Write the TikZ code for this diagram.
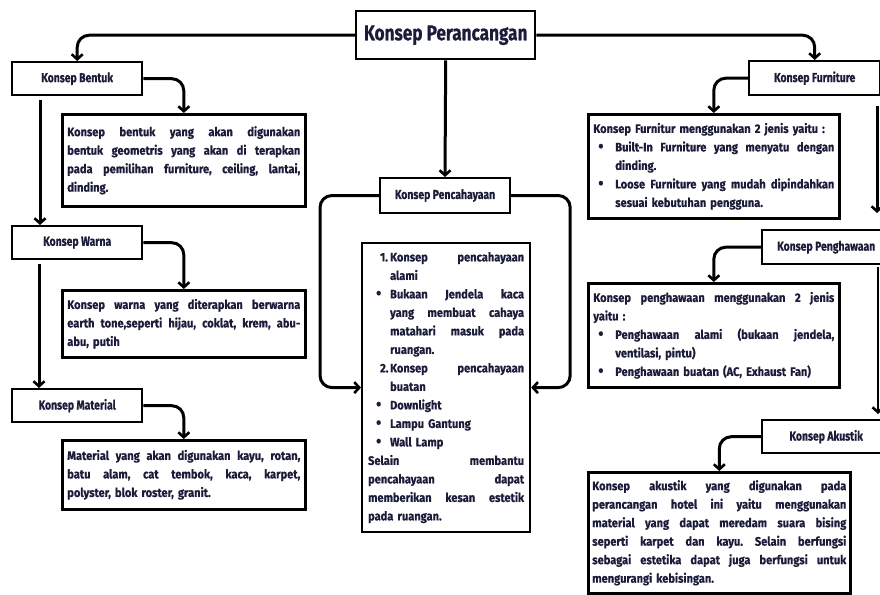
\documentclass[tikz,border=0pt]{standalone}
\usepackage{fontspec}
\setmainfont{Fira Sans}[FakeStretch=0.9,BoldFeatures={FakeBold=0.6}]
\newfontfamily\lblfont{Fira Sans}[FakeStretch=0.8,BoldFeatures={FakeBold=0.6}]
\usetikzlibrary{arrows.meta,calc}
\definecolor{txt}{HTML}{1B1B3A}
\frenchspacing
\newlength\mkind
\setlength\mkind{22pt}
\newcommand\bul{\raisebox{-0.4pt}{\scalebox{1.35}{\textbullet}}}
% justified full line
\newcommand\Jf[1]{\hbox to\hsize{\spaceskip=\fontdimen2\font plus 1fil\relax #1}}
% left full line
\newcommand\Lf[1]{\hbox to\hsize{#1\hfil}}
% justified line with marker at offset
\newcommand\Jm[3]{\hbox to\hsize{\hbox to\mkind{\hskip#1\relax #2\hss}\spaceskip=\fontdimen2\font plus 1fil\relax #3}}
% left line with marker at offset
\newcommand\Lm[3]{\hbox to\hsize{\hbox to\mkind{\hskip#1\relax #2\hss}#3\hfil}}
\tikzset{
  lbl/.style={draw, line width=2.4pt, text=txt, inner sep=0pt, anchor=north west,
    font=\lblfont\bfseries\fontsize{13}{15}\selectfont},
  desc/.style={draw, line width=2.6pt, text=txt, inner sep=0pt, anchor=north west,
    font=\bfseries\fontsize{12.3}{18.5}\selectfont},
  conn/.style={line width=3pt, rounded corners=12pt,
    -{Straight Barb[length=5pt,width=11pt,line width=2.6pt]}}
}
\begin{document}
\begin{tikzpicture}[x=1pt,y=-1pt]
\useasboundingbox (0,0) rectangle (880,594);
\clip (0,0) rectangle (880,594);
\fill[white] (0,0) rectangle (880,594);

% main node
\node[lbl, font=\lblfont\bfseries\fontsize{21.5}{24}\selectfont, minimum width=179pt, minimum height=48pt] (per) at (355,10) {Konsep Perancangan};

% left column
\node[lbl, minimum width=130pt, minimum height=33pt] (bentuk) at (11,61) {Konsep Bentuk};
\node[lbl, minimum width=130pt, minimum height=33pt] (warna) at (11,225) {Konsep Warna};
\node[lbl, minimum width=130pt, minimum height=33pt] (material) at (11,388) {Konsep Material};

\node[desc, minimum width=243pt, minimum height=92pt, text width=233pt] (bdesc) at (61,113) {%
\Jf{Konsep bentuk yang akan digunakan}
\Jf{bentuk geometris yang akan di terapkan}
\Jf{pada pemilihan furniture, ceiling, lantai,}
\Lf{dinding.}};

\node[desc, minimum width=243pt, minimum height=67pt, text width=233pt] (wdesc) at (61,289) {%
\Jf{Konsep warna yang diterapkan berwarna}
\Jf{earth tone,seperti hijau, coklat, krem, abu-}
\Lf{abu, putih}};

\node[desc, minimum width=243pt, minimum height=69pt, text width=233pt] (mdesc) at (61,439) {%
\Jf{Material yang akan digunakan kayu, rotan,}
\Jf{batu alam, cat tembok, kaca, karpet,}
\Lf{polyster, blok roster, granit.}};

% centre column
\node[lbl, line width=2pt, minimum width=130pt, minimum height=35pt] (penc) at (379,177) {Konsep Pencahayaan};

\node[desc, line width=2.2pt, minimum width=168pt, minimum height=289pt, text width=156pt] (pdesc) at (361,242) {%
\Jm{12pt}{1.}{Konsep pencahayaan}
\Lm{0pt}{}{alami}
\Jm{8pt}{\bul}{Bukaan Jendela kaca}
\Jm{0pt}{}{yang membuat cahaya}
\Jm{0pt}{}{matahari masuk pada}
\Lm{0pt}{}{ruangan.}
\Jm{12pt}{2.}{Konsep pencahayaan}
\Lm{0pt}{}{buatan}
\Lm{8pt}{\bul}{Downlight}
\Lm{8pt}{\bul}{Lampu Gantung}
\Lm{8pt}{\bul}{Wall Lamp}
\Jf{Selain membantu}
\Jf{pencahayaan dapat}
\Jf{memberikan kesan estetik}
\Lf{pada ruangan.}};

% right column
\node[lbl, minimum width=131pt, minimum height=34pt] (furn) at (748,60) {Konsep Furniture};
\node[lbl, minimum width=128pt, minimum height=34pt] (pengh) at (761,229) {Konsep Penghawaan};
\node[lbl, minimum width=128pt, minimum height=33pt] (akus) at (761,419) {Konsep Akustik};

\node[desc, minimum width=251pt, minimum height=104pt, text width=241pt] (fdesc) at (587,113) {%
\Lf{Konsep Furnitur menggunakan 2 jenis yaitu :}
\Jm{5pt}{\bul}{Built-In Furniture yang menyatu dengan}
\Lm{0pt}{}{dinding.}
\Jm{5pt}{\bul}{Loose Furniture yang mudah dipindahkan}
\Lm{0pt}{}{sesuai kebutuhan pengguna.}};

\node[desc, minimum width=251pt, minimum height=104pt, text width=241pt] (hdesc) at (587,282) {%
\Jf{Konsep penghawaan menggunakan 2 jenis}
\Lf{yaitu :}
\Jm{5pt}{\bul}{Penghawaan alami (bukaan jendela,}
\Lm{0pt}{}{ventilasi, pintu)}
\Lm{5pt}{\bul}{Penghawaan buatan (AC, Exhaust Fan)}};

\node[desc, minimum width=262pt, minimum height=121pt, text width=254pt] (adesc) at (587,471) {%
\Jf{Konsep akustik yang digunakan pada}
\Jf{perancangan hotel ini yaitu menggunakan}
\Jf{material yang dapat meredam suara bising}
\Jf{seperti karpet dan kayu. Selain berfungsi}
\Jf{sebagai estetika dapat juga berfungsi untuk}
\Lf{mengurangi kebisingan.}};

% connectors
\draw[conn] (per.west) -| (bentuk.north);
\draw[conn] (per.east) -| (furn.north);
\draw[conn] (per.south) -- (penc.north);

\draw[conn] (bentuk.east) -| (bdesc.north);
\draw[conn] (warna.east) -| (wdesc.north);
\draw[conn] (material.east) -| (mdesc.north);
\draw[conn] ([xshift=29pt,yshift=-4pt]bentuk.south west) -- ([xshift=29pt]warna.north west);
\draw[conn] ([xshift=28pt,yshift=-4pt]warna.south west) -- ([xshift=28pt]material.north west);

\draw[conn] (penc.west) -| ([xshift=-41pt]pdesc.west) -- (pdesc.west);
\draw[conn] (penc.east) -| ([xshift=39pt]pdesc.east) -- (pdesc.east);

\draw[conn] (furn.west) -| (fdesc.north);
\draw[conn] (pengh.west) -| (hdesc.north);
\draw[conn] (akus.west) -| (adesc.north);

\coordinate (e1) at (877,213);
\coordinate (e2) at (878,414);
\path (e1 |- furn.south) coordinate (s1);
\path (e2 |- pengh.south) coordinate (s2);
\draw[conn] ([yshift=-10pt]s1) -- (e1);
\draw[conn, line width=1.5pt] ([yshift=-2pt]s2) -- (e2);
\end{tikzpicture}
\end{document}
